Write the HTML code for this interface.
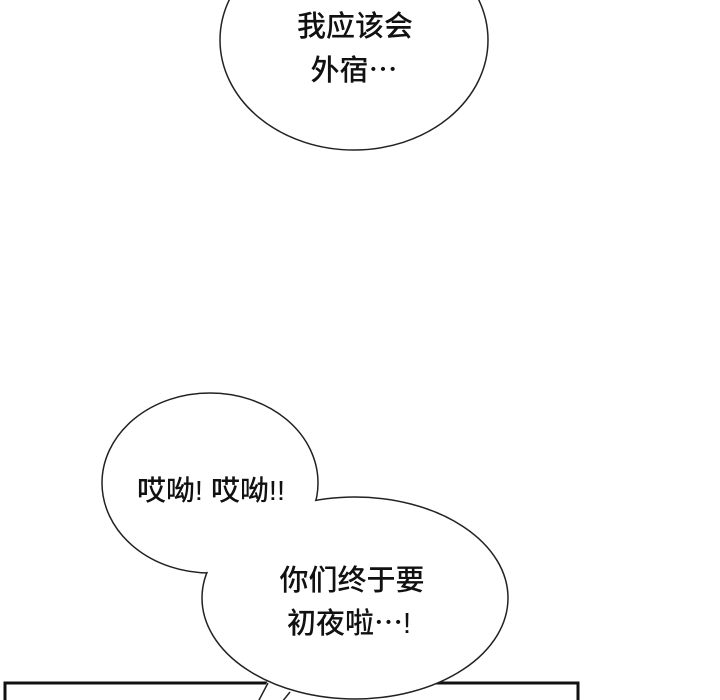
<!DOCTYPE html>
<html><head><meta charset="utf-8"><style>
html,body{margin:0;padding:0;background:#fff;width:720px;height:700px;overflow:hidden}
svg{display:block}
text{font-family:"Liberation Sans","Noto Sans CJK SC",sans-serif;font-weight:500;fill:#111;text-anchor:middle}
</style></head><body>
<svg width="720" height="700" viewBox="0 0 720 700">
<ellipse cx="354" cy="40" rx="134" ry="110" fill="#fff" stroke="#222" stroke-width="1.5"/>
<text x="355" y="36" font-size="29">我应该会</text>
<text x="354" y="80" font-size="29">外宿⋯</text>
<rect x="5" y="683" width="573" height="30" fill="#fff" stroke="#111" stroke-width="3"/>
<ellipse cx="210" cy="483" rx="108" ry="90" fill="#fff" stroke="#222" stroke-width="1.5"/>
<path d="M268 680 L258 702 L296 702 L288 690 Z" fill="#fff" stroke="none"/>
<line x1="268" y1="683" x2="258" y2="702" stroke="#222" stroke-width="1.5"/>
<line x1="290" y1="692" x2="282" y2="702" stroke="#222" stroke-width="1.5"/>
<ellipse cx="355" cy="598" rx="153" ry="101" fill="#fff" stroke="#222" stroke-width="1.5"/>
<ellipse cx="210" cy="483" rx="107" ry="89" fill="#fff" stroke="none"/>
<text x="211" y="500" font-size="28" textLength="148" lengthAdjust="spacingAndGlyphs">哎呦! 哎呦!!</text>
<text x="352" y="590" font-size="29">你们终于要</text>
<text x="349" y="633" font-size="29">初夜啦⋯!</text>
</svg>
</body></html>
